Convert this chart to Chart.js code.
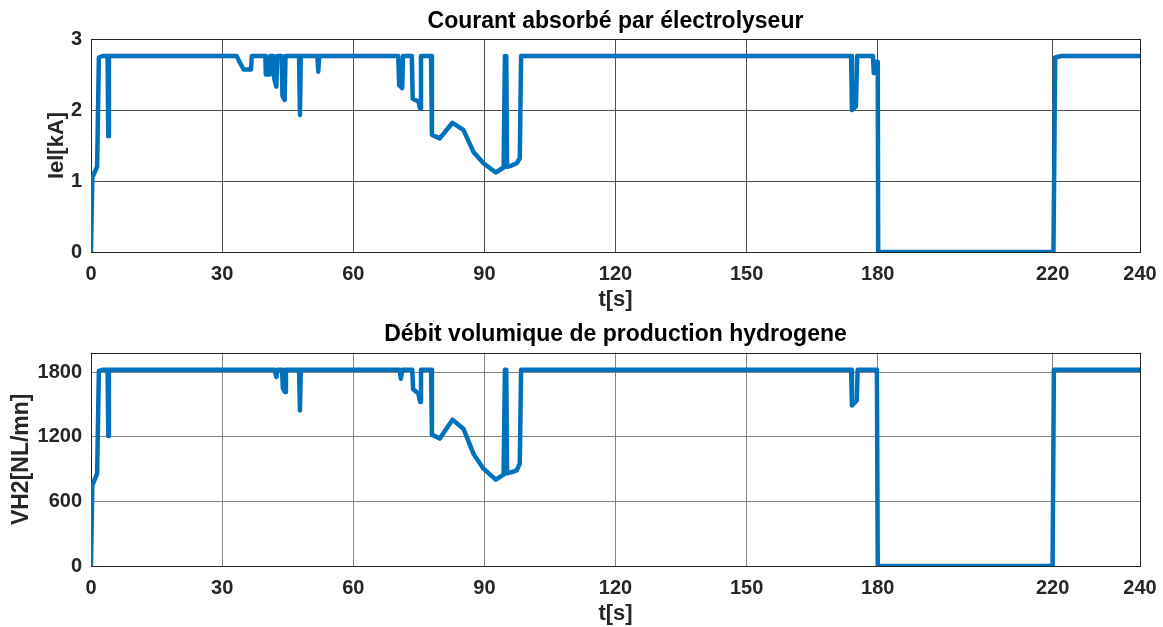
<!DOCTYPE html>
<html>
<head>
<meta charset="utf-8">
<script src="https://cdn.jsdelivr.net/npm/chart.js@4.4.0/dist/chart.umd.min.js"></script>
<style>
  html, body { margin: 0; padding: 0; background: #fff; }
  #wrap { position: relative; width: 1163px; height: 627px; }
  .panel { position: absolute; left: 0; width: 1163px; }
  #top { top: 0; height: 313px; }
  #bottom { top: 313px; height: 314px; }
</style>
</head>
<body>
<div id="wrap">
  <div class="panel" id="top"><canvas id="currentChart"></canvas></div>
  <div class="panel" id="bottom"><canvas id="hydrogenChart"></canvas></div>
</div>
<script>
// time axis ticks (no 200 label on purpose, the run stops at 180 and restarts at 220)
const timeTicks = [0, 30, 60, 90, 120, 150, 180, 220, 240];
const currentTicks = [0, 1, 2, 3];
const flowTicks = [0, 600, 1200, 1800];

// electrolyser current, kA
const tCurrent = [
  0, 0.3, 1.4, 1.8, 2.6, 3.8, 3.95, 4.1,
  33.3, 34.9, 36.6, 36.8,
  39.9, 40.0, 40.9, 41.0,
  41.7, 41.9, 42.4, 42.6,
  43.6, 43.8, 44.3, 44.5,
  47.6, 47.8, 48.0,
  51.8, 52.0, 52.2,
  70.3, 70.5, 71.2, 71.4,
  73.4, 73.6, 74.9, 75.3, 75.5,
  77.8, 78.0, 79.8, 82.7, 85.2, 87.5, 89.8, 92.6, 94.4, 94.7, 95.0, 95.2, 95.9, 97.4, 98.1, 98.4,
  173.9, 174.1, 175.0, 175.3,
  178.9, 179.1, 179.4, 179.6, 180.0, 180.1,
  220.2, 220.6, 222, 240
];
const ielKA = [
  0, 1.05, 1.2, 2.74, 2.76, 2.76, 1.63, 2.76,
  2.76, 2.57, 2.57, 2.76,
  2.76, 2.5, 2.5, 2.76,
  2.76, 2.45, 2.33, 2.76,
  2.76, 2.2, 2.14, 2.76,
  2.76, 1.93, 2.76,
  2.76, 2.54, 2.76,
  2.76, 2.35, 2.31, 2.76,
  2.76, 2.16, 2.12, 2.02, 2.76,
  2.76, 1.65, 1.60, 1.82, 1.72, 1.41, 1.25, 1.12, 1.19, 2.76, 2.76, 1.2, 1.21, 1.25, 1.32, 2.76,
  2.76, 2.0, 2.05, 2.76,
  2.76, 2.52, 2.52, 2.68, 2.68, 0,
  0, 2.74, 2.76, 2.76
];

// hydrogen volume flow, NL/mn
const tFlow = [
  0, 0.3, 1.4, 1.8, 2.6, 3.8, 3.95, 4.1,
  42.0, 42.4, 42.7,
  43.7, 43.9, 44.4, 44.6,
  47.6, 47.8, 48.0,
  70.6, 70.9, 71.2,
  73.5, 73.7, 74.9, 75.3, 75.5,
  77.8, 78.0, 79.8, 82.7, 85.2, 87.5, 89.8, 92.6, 94.4, 94.7, 95.0, 95.2, 95.9, 97.4, 98.1, 98.4,
  173.9, 174.1, 175.2, 175.4,
  179.8, 180.0, 220.0, 220.3, 240
];
const vh2Flow = [
  0, 748, 857, 1810, 1820, 1820, 1206, 1820,
  1820, 1753, 1820,
  1820, 1650, 1614, 1820,
  1820, 1444, 1820,
  1820, 1738, 1820,
  1820, 1640, 1600, 1521, 1820,
  1820, 1219, 1182, 1358, 1274, 1042, 903, 801, 848, 1820, 1820, 860, 866, 888, 950, 1820,
  1820, 1490, 1537, 1820,
  1820, 0, 0, 1820, 1820
];

const FONT = "'Liberation Sans', Arial, sans-serif";
const INK = '#262626';
const LINE_BLUE = '#0072BD';

// axes box drawn around the plot area, under the curve
const frameBox = {
  id: 'frameBox',
  beforeDatasetsDraw(chart) {
    const { ctx, chartArea: a } = chart;
    ctx.save();
    ctx.strokeStyle = INK;
    ctx.lineWidth = 1;
    ctx.strokeRect(Math.round(a.left) + 0.5, Math.round(a.top) + 0.5,
                   Math.round(a.right - a.left), Math.round(a.bottom - a.top));
    ctx.restore();
  }
};

function toPoints(xs, ys) {
  return xs.map((x, i) => ({ x: x, y: ys[i] }));
}

function buildChart(canvasId, opts) {
  return new Chart(document.getElementById(canvasId), {
    type: 'line',
    data: {
      datasets: [{
        data: toPoints(opts.xs, opts.ys),
        borderColor: LINE_BLUE,
        borderWidth: 4.5,
        borderJoinStyle: 'round',
        borderCapStyle: 'round',
        pointRadius: 0,
        tension: 0,
        fill: false
      }]
    },
    options: {
      responsive: true,
      maintainAspectRatio: false,
      animation: false,
      events: [],
      layout: { padding: { left: 0, right: 23, top: 0, bottom: 0 } },
      plugins: {
        legend: { display: false },
        tooltip: { enabled: false },
        title: {
          display: true,
          fullSize: false,   // centred over the plot area, not the canvas
          text: opts.title,
          color: '#000',
          font: { family: FONT, size: 23, weight: 'bold' },
          padding: opts.titlePad
        }
      },
      scales: {
        x: {
          type: 'linear',
          min: 0,
          max: 240,
          afterBuildTicks: axis => { axis.ticks = timeTicks.map(v => ({ value: v })); },
          afterFit: axis => {
            axis.height = opts.xAxisHeight;
            // keep the end labels from shrinking the plot area
            axis.paddingLeft = 0;
            axis.paddingRight = 0;
          },
          grid: { color: opts.gridColor, lineWidth: 1, drawTicks: false },
          border: { display: false },
          ticks: {
            color: INK,
            padding: 10,
            maxRotation: 0,
            autoSkip: false,
            callback: v => String(v),
            font: { family: FONT, size: 20, weight: 'bold' }
          },
          title: {
            display: true,
            text: 't[s]',
            color: INK,
            font: { family: FONT, size: 22, weight: 'bold' },
            padding: { top: 2, bottom: 0 }
          }
        },
        y: {
          min: opts.yMin,
          max: opts.yMax,
          afterBuildTicks: axis => { axis.ticks = opts.yTicks.map(v => ({ value: v })); },
          afterFit: axis => { axis.width = 91; },
          grid: { color: opts.gridColor, lineWidth: 1, drawTicks: false },
          border: { display: false },
          ticks: {
            color: INK,
            padding: 9,
            autoSkip: false,
            callback: v => String(v),
            font: { family: FONT, size: 20, weight: 'bold' }
          },
          title: {
            display: true,
            text: opts.yTitle,
            color: INK,
            font: { family: FONT, size: opts.yTitleSize, weight: 'bold' },
            padding: { top: opts.yTitleOffset, bottom: 0 }
          }
        }
      }
    },
    plugins: [frameBox]
  });
}

buildChart('currentChart', {
  title: 'Courant absorbé par électrolyseur',
  titlePad: { top: 8, bottom: 3.4 },
  xs: tCurrent,
  ys: ielKA,
  yMin: 0,
  yMax: 3,
  yTicks: currentTicks,
  yTitle: 'Iel[kA]',
  yTitleSize: 22,
  yTitleOffset: 44,
  xAxisHeight: 61,
  gridColor: '#505050'
});

buildChart('hydrogenChart', {
  title: 'Débit volumique de production hydrogene',
  titlePad: { top: 8, bottom: 4 },
  xs: tFlow,
  ys: vh2Flow,
  yMin: 0,
  yMax: 1980,
  yTicks: flowTicks,
  yTitle: 'VH2[NL/mn]',
  yTitleSize: 23,
  yTitleOffset: 8,
  xAxisHeight: 61,
  gridColor: '#858585'
});
</script>
</body>
</html>
